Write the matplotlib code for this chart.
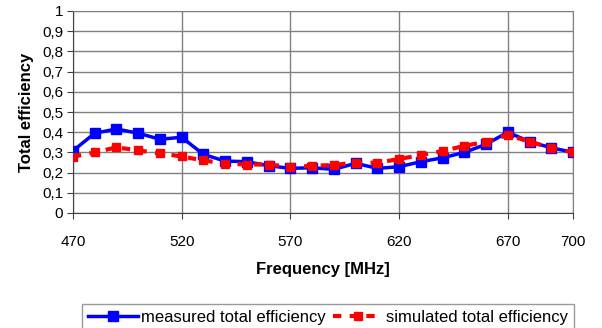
import numpy as np
import matplotlib.pyplot as plt
from matplotlib.ticker import FixedLocator

plt.rcParams['font.family'] = ['Liberation Sans', 'DejaVu Sans']

# Datos
freq = [470, 480, 490, 500, 510, 520, 530, 540, 550, 560, 570, 580,
        590, 600, 610, 620, 630, 640, 650, 660, 670, 680, 690, 700]
measured = [0.308, 0.395, 0.416, 0.395, 0.365, 0.375, 0.29, 0.257, 0.254, 0.234, 0.221, 0.224,
            0.216, 0.246, 0.221, 0.229, 0.254, 0.273, 0.30, 0.34, 0.40, 0.353, 0.323, 0.30]
simulated = [0.279, 0.30, 0.325, 0.31, 0.295, 0.28, 0.26, 0.245, 0.24, 0.24, 0.229, 0.233,
             0.238, 0.249, 0.249, 0.267, 0.287, 0.307, 0.332, 0.353, 0.386, 0.353, 0.323, 0.30]

x_ticks = [470, 520, 570, 620, 670, 700]
y_ticks = [0, 0.1, 0.2, 0.3, 0.4, 0.5, 0.6, 0.7, 0.8, 0.9, 1]
y_tick_labels = ["0", "0,1", "0,2", "0,3", "0,4", "0,5", "0,6", "0,7", "0,8", "0,9", "1"]

fig = plt.figure(figsize=(6.02, 3.28), dpi=100)
ax = fig.add_axes([73 / 602, 1 - 213 / 328, 500 / 602, 202 / 328])

ax.plot(freq, measured, color='#0000ff', linewidth=2.5, marker='s', markersize=7,
        label='measured total efficiency', zorder=3)
ax.plot(freq, simulated, color='#ff0000', linewidth=3, linestyle=(0, (2, 2)),
        marker='s', markersize=5.5, label='simulated total efficiency', zorder=4)

ax.set_xlim(470, 700)
ax.set_ylim(0, 1)
ax.set_xticks(x_ticks)
ax.set_yticks(y_ticks)
ax.set_yticklabels(y_tick_labels)
ax.xaxis.set_minor_locator(FixedLocator([]))

ax.grid(True, color='#808080', linewidth=1)
ax.set_axisbelow(True)

for side in ['top', 'right']:
    ax.spines[side].set_color('#808080')
for side in ['left', 'bottom']:
    ax.spines[side].set_color('#404040')

ax.tick_params(axis='both', labelsize=11, length=4, color='#404040')
ax.tick_params(axis='x', pad=12)
ax.tick_params(axis='y', pad=3)

ax.set_xlabel('Frequency [MHz]', fontsize=12, fontweight='bold', labelpad=9)
ax.set_ylabel('Total efficiency', fontsize=12, fontweight='bold', labelpad=6)

leg = fig.legend(loc='upper center', bbox_to_anchor=(0.545, 1 - 296 / 328), ncol=2, fontsize=12,
                 frameon=True, fancybox=False, edgecolor='#808080', handlelength=3,
                 columnspacing=0.4, handletextpad=0.2, borderpad=0.35)
leg.get_frame().set_linewidth(1)

fig.savefig('out.png', dpi=100)
